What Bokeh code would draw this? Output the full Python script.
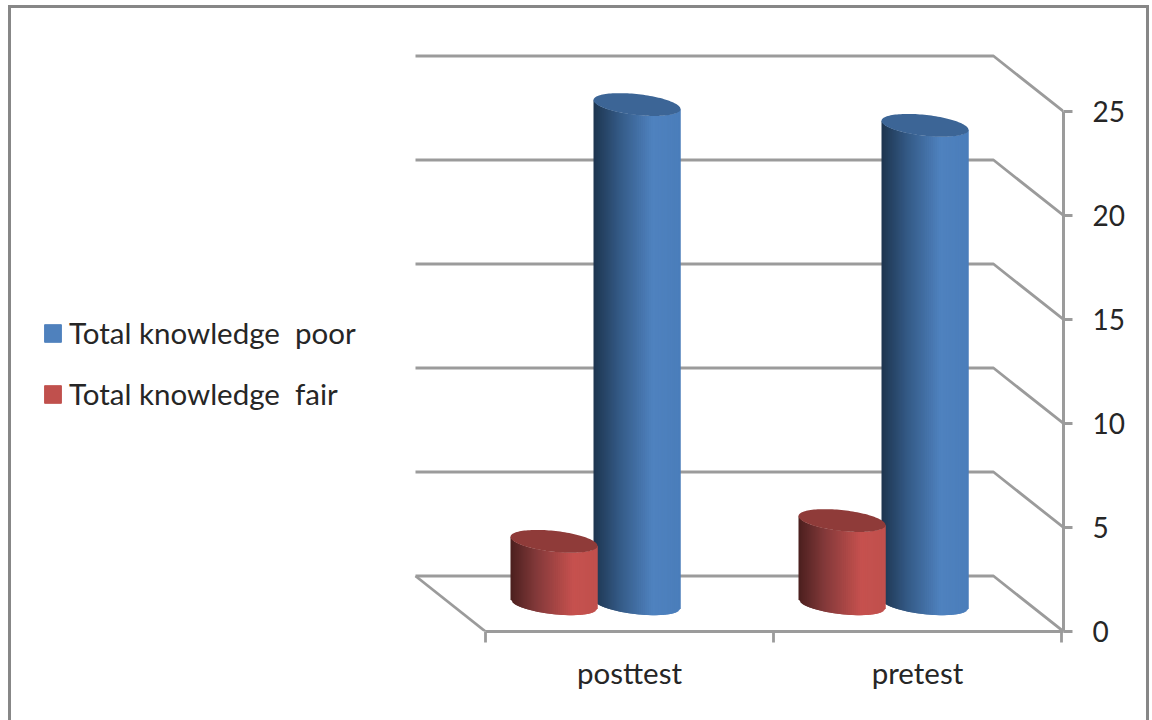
import numpy as np
from bokeh.embed import file_html
from bokeh.models import ColumnDataSource, FixedTicker, Legend, LegendItem, Range1d
from bokeh.plotting import figure
from bokeh.resources import INLINE

categories = ["posttest", "pretest"]
poor_values = [24, 23]
fair_values = [3, 4]
value_ticks = [0, 5, 10, 15, 20, 25]
poor_label = "Total knowledge  poor"
fair_label = "Total knowledge  fair"

GRID = "#9b9b9b"
TEXT = "#262626"
FONT = "Lato"
FRAME_EDGE = "#878787"

# Canvas geometry: the frame runs to the value axis and down to the category axis.
WIDTH, HEIGHT = 1152, 720
FRAME_RIGHT, FRAME_BOTTOM = 1063, 631
X_ZERO = 485.0
PX_PER_CATEGORY = 288.0
PX_PER_UNIT = 20.8

# Oblique projection of the 3D box, in data units.
DEPTH_X = 70 / PX_PER_CATEGORY
DEPTH_Y = 55.5 / PX_PER_UNIT
BAR_WIDTH = 87 / PX_PER_CATEGORY
SERIES_STEP = 83 / PX_PER_CATEGORY
CAP_MINOR = 10.5 / PX_PER_UNIT
CAP_TILT = 4.5 / PX_PER_UNIT

# The outer chart border is painted as CSS backgrounds on the page element;
# its lower edge falls below the window.
edge = f"linear-gradient({FRAME_EDGE},{FRAME_EDGE})"
border_styles = {
    "background-image": f"{edge},{edge},{edge}",
    "background-size": "1141px 3px,3px 715px,3px 715px",
    "background-position": "8px 5px,8px 5px,1146px 5px",
    "background-repeat": "no-repeat",
}

x_end = (FRAME_RIGHT - X_ZERO) / PX_PER_CATEGORY
p = figure(
    width=WIDTH, height=HEIGHT, output_backend="svg", toolbar_location=None,
    x_range=Range1d(-X_ZERO / PX_PER_CATEGORY, x_end),
    y_range=Range1d(0, FRAME_BOTTOM / PX_PER_UNIT),
    y_axis_location="right",
    min_border_left=0, min_border_top=0,
    min_border_right=WIDTH - FRAME_RIGHT, min_border_bottom=HEIGHT - FRAME_BOTTOM,
    background_fill_color=None, border_fill_color=None,
    styles=border_styles,
)
p.outline_line_color = None
p.grid.visible = False

# Walls and floor of the 3D box: one rail per tick along the back wall and side wall.
rail_xs, rail_ys = [], []
for v in value_ticks:
    rail_xs.append([-DEPTH_X, x_end - DEPTH_X, x_end])
    rail_ys.append([v + DEPTH_Y, v + DEPTH_Y, v])
rail_xs.append([-DEPTH_X, 0])
rail_ys.append([DEPTH_Y, 0])
p.multi_line(rail_xs, rail_ys, line_color=GRID, line_width=2.8)


def ramp(stops, t):
    """Colour at position t along a list of (position, hex) stops."""
    pos = [s[0] for s in stops]
    rgb = np.array([[int(s[1][i:i + 2], 16) for i in (1, 3, 5)] for s in stops], float)
    c = [np.interp(t, pos, rgb[:, k]) for k in range(3)]
    return "#%02x%02x%02x" % tuple(int(round(x)) for x in c)


BLUE_SIDE = [(0, "#1d354f"), (0.3, "#345a86"), (0.68, "#4f82bf"), (1, "#4a7dba")]
RED_SIDE = [(0, "#4b1f1e"), (0.3, "#83393a"), (0.72, "#c6514e"), (1, "#c0504d")]


def cylinder(cx, value, side_stops, cap_color, strips=44):
    """Draw a shaded cylinder standing halfway into the box depth."""
    half = BAR_WIDTH / 2
    base = DEPTH_Y / 2
    edges = np.linspace(-1, 1, strips + 1)
    curve = lambda t: -CAP_MINOR * np.sqrt(np.clip(1 - t ** 2, 0, 1)) - CAP_TILT * t
    xs, ys, colors = [], [], []
    # Each strip reaches over its neighbour, which is painted on top, so no seams show.
    for i in range(strips):
        a, b = edges[i], edges[min(i + 2, strips)]
        xs.append([cx + a * half, cx + b * half, cx + b * half, cx + a * half])
        ys.append([base + value + curve(a), base + value + curve(b), base + curve(b), base + curve(a)])
        colors.append(ramp(side_stops, (i + 0.5) / strips))
    src = ColumnDataSource(dict(xs=xs, ys=ys, color=colors))
    p.patches("xs", "ys", source=src, fill_color="color", line_color=None)
    t = np.linspace(0, 2 * np.pi, 120)
    p.patch(
        cx + half * np.cos(t),
        base + value + CAP_MINOR * np.sin(t) - CAP_TILT * np.cos(t),
        fill_color=cap_color, line_color=None,
    )


for i, (poor, fair) in enumerate(zip(poor_values, fair_values)):
    center = i + 0.5 - DEPTH_X / 2 + 1 / PX_PER_CATEGORY
    cylinder(center + SERIES_STEP / 2, poor, BLUE_SIDE, "#3c6596")
    cylinder(center - SERIES_STEP / 2, fair, RED_SIDE, "#8f3b39")

# Value axis on the right, stopping at its last tick.
y_axis = p.yaxis[0]
y_axis.ticker = FixedTicker(ticks=value_ticks)
y_axis.bounds = (value_ticks[0], value_ticks[-1])
y_axis.axis_line_color = GRID
y_axis.axis_line_width = 3
y_axis.major_tick_line_color = GRID
y_axis.major_tick_line_width = 2.8
y_axis.major_tick_in = 0
y_axis.major_tick_out = 9
y_axis.minor_tick_line_color = None
y_axis.major_label_standoff = 20
y_axis.major_label_text_font = FONT
y_axis.major_label_text_font_size = "28px"
y_axis.major_label_text_color = TEXT

# Category axis: ticks on the boundaries, names in between.
x_axis = p.xaxis[0]
label_positions = [i + 0.5 for i in range(len(categories))]
x_axis.ticker = FixedTicker(ticks=label_positions, minor_ticks=list(range(len(categories) + 1)))
x_axis.major_label_overrides = dict(zip(label_positions, categories))
x_axis.bounds = (0, x_end)
x_axis.axis_line_color = GRID
x_axis.axis_line_width = 2.8
x_axis.major_tick_line_color = None
x_axis.major_tick_in = 0
x_axis.major_tick_out = 11
x_axis.minor_tick_line_color = GRID
x_axis.minor_tick_line_width = 2.8
x_axis.minor_tick_in = 0
x_axis.minor_tick_out = 11
x_axis.major_label_standoff = 12
x_axis.major_label_text_font = FONT
x_axis.major_label_text_font_size = "29.5px"
x_axis.major_label_text_color = TEXT

# Legend swatches are flat-coloured, unlike the shaded cylinders; their own
# quads hold no position, so only the legend shows them.
hidden = dict(left=[np.nan], right=[np.nan], top=[np.nan], bottom=[np.nan])
poor_swatch = p.quad(source=ColumnDataSource(hidden), left="left", right="right", top="top", bottom="bottom",
                     fill_color="#4f81bd", line_color="#4f81bd")
fair_swatch = p.quad(source=ColumnDataSource(hidden), left="left", right="right", top="top", bottom="bottom",
                     fill_color="#c0504d", line_color="#c0504d")
legend = Legend(
    items=[LegendItem(label=poor_label, renderers=[poor_swatch]),
           LegendItem(label=fair_label, renderers=[fair_swatch])],
    location=(42, 220), orientation="vertical",
    glyph_width=21, glyph_height=22, label_standoff=6, spacing=26, padding=0, margin=0,
    border_line_color=None, background_fill_color=None, background_fill_alpha=0,
    label_text_font=FONT, label_text_font_size="29.5px", label_text_color=TEXT,
)
p.add_layout(legend)

open("out.html", "w").write(file_html(p, INLINE))
